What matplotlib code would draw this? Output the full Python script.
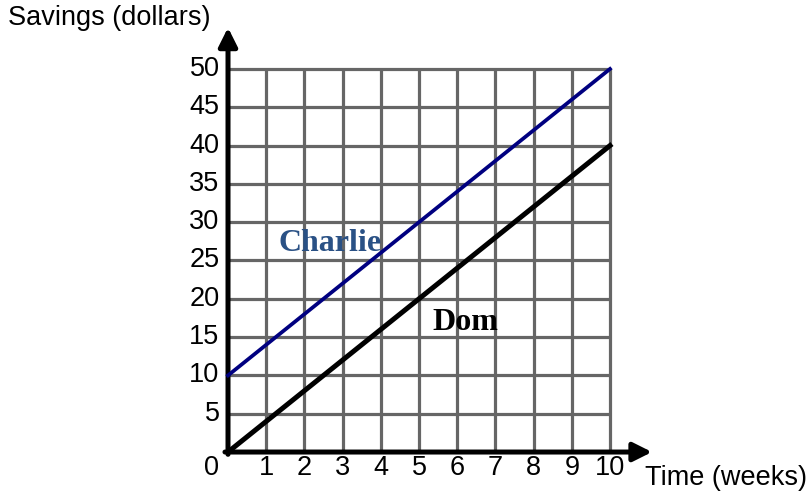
import numpy as np
import matplotlib.pyplot as plt

plt.rcParams['font.family'] = ['Liberation Sans', 'DejaVu Sans']

weeks = [0, 1, 2, 3, 4, 5, 6, 7, 8, 9, 10]
savings_ticks = [5, 10, 15, 20, 25, 30, 35, 40, 45, 50]
charlie = [10, 50]   # savings at week 0 and week 10
dom = [0, 40]

fig = plt.figure(figsize=(8.1, 4.98), dpi=100)
ax = fig.add_axes([0, 0, 1, 1])
ax.set_xlim(-5.969, 15.236)
ax.set_ylim(-6.0, 59.0)
ax.axis('off')

# grid in gray
grey = '#666666'
for w in weeks[1:]:
    ax.plot([w, w], [0, 50], color=grey, lw=2.3, solid_capstyle='butt', zorder=1)
for s in savings_ticks:
    ax.plot([0, 10], [s, s], color=grey, lw=2.3, solid_capstyle='butt', zorder=1)

# axes with arrows
ax.annotate('', xy=(0, 55.4), xytext=(0, -0.3),
            arrowprops=dict(arrowstyle='-|>', lw=3.6, color='k', mutation_scale=28,
                            shrinkA=0, shrinkB=0), zorder=3)
ax.annotate('', xy=(11.1, 0), xytext=(-0.08, 0),
            arrowprops=dict(arrowstyle='-|>', lw=3.6, color='k', mutation_scale=28,
                            shrinkA=0, shrinkB=0), zorder=3)

# lines
ax.plot([weeks[0], weeks[-1]], charlie, color='#000080', lw=2.7, zorder=4)
ax.plot([weeks[0], weeks[-1]], dom, color='k', lw=3.6, zorder=4)

# tick labels
for w in weeks:
    xx = w if w > 0 else -0.42
    ax.text(xx, -2.1, str(w), fontsize=19.5, ha='center', va='center')
for s in savings_ticks:
    ax.text(-0.22, s, str(s), fontsize=19.5, ha='right', va='center')

ax.text(-5.75, 56.6, 'Savings (dollars)', fontsize=19.5, ha='left', va='center')
ax.text(10.92, -3.45, 'Time (weeks)', fontsize=19.5, ha='left', va='center')

ax.text(1.31, 27.2, 'Charlie', fontsize=23, fontweight='bold', family='Liberation Serif',
        color='#2a5185', ha='left', va='center')
ax.text(5.35, 16.9, 'Dom', fontsize=23, fontweight='bold', family='Liberation Serif',
        color='k', ha='left', va='center')

plt.savefig('out.png', dpi=100)
